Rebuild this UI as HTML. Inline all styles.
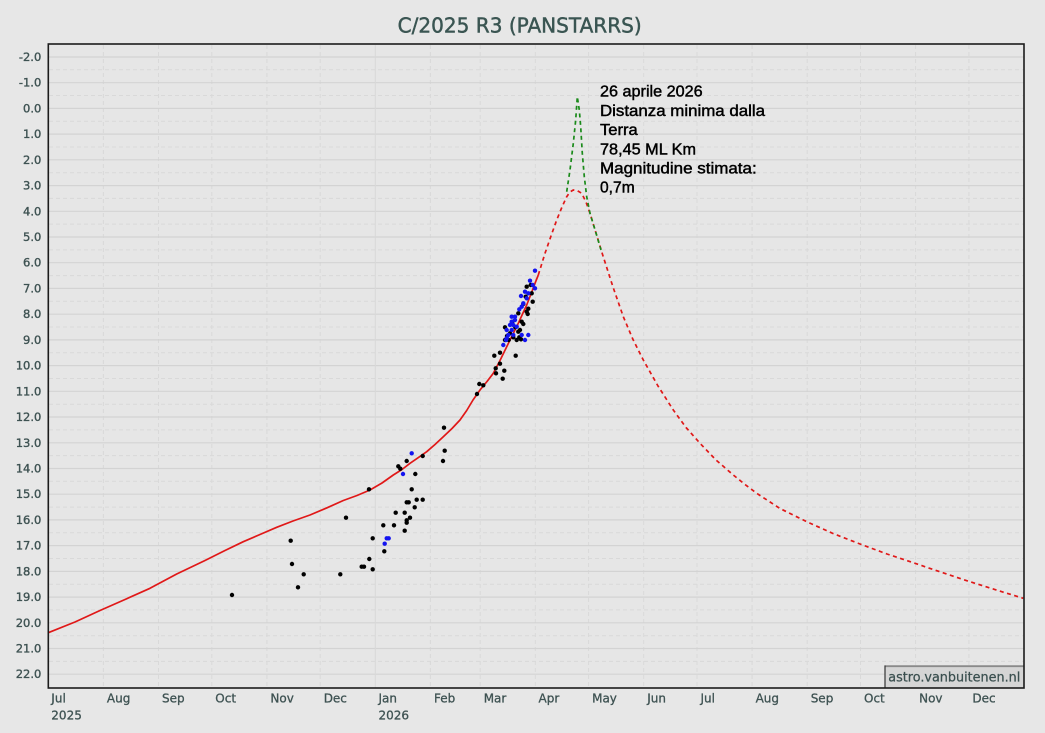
<!DOCTYPE html>
<html><head><meta charset="utf-8"><style>
html,body{margin:0;padding:0;background:#e7e7e7;}
svg{display:block;}
</style></head><body>
<svg width="1045" height="733" viewBox="0 0 1045 733" xmlns="http://www.w3.org/2000/svg">
<rect x="0" y="0" width="1045" height="733" fill="#e7e7e7"/>
<text x="519.7" y="32.3" text-anchor="middle" font-family="DejaVu Sans, sans-serif" font-size="20" fill="#3a5552" stroke="#3a5552" stroke-width="0.45" textLength="244" lengthAdjust="spacingAndGlyphs">C/2025 R3 (PANSTARRS)</text>
<rect x="48.3" y="44" width="975.7" height="644" fill="#e6e6e6"/>
<g stroke="#d9d9d9" stroke-width="1" stroke-dasharray="4,3" fill="none">
<path d="M49 69.8H1024M49 95.5H1024M49 121.3H1024M49 147H1024M49 172.7H1024M49 198.4H1024M49 224.1H1024M49 249.9H1024M49 275.6H1024M49 301.3H1024M49 327H1024M49 352.7H1024M49 378.5H1024M49 404.2H1024M49 429.9H1024M49 455.6H1024M49 481.3H1024M49 507.1H1024M49 532.8H1024M49 558.5H1024M49 584.2H1024M49 609.9H1024M49 635.7H1024M49 661.4H1024"/>
<path d="M103.4 45V688M158.5 45V688M211.8 45V688M266.9 45V688M320.2 45V688M430.4 45V688M480.2 45V688M535.3 45V688M588.6 45V688M643.7 45V688M697 45V688M752.1 45V688M807.2 45V688M860.5 45V688M915.6 45V688M968.9 45V688"/>
</g>
<g stroke="#d3d3d3" stroke-width="1.2" fill="none">
<path d="M49 57H1024M49 82.7H1024M49 108.4H1024M49 134.1H1024M49 159.8H1024M49 185.6H1024M49 211.3H1024M49 237H1024M49 262.7H1024M49 288.4H1024M49 314.2H1024M49 339.9H1024M49 365.6H1024M49 391.3H1024M49 417H1024M49 442.8H1024M49 468.5H1024M49 494.2H1024M49 519.9H1024M49 545.6H1024M49 571.4H1024M49 597.1H1024M49 622.8H1024M49 648.5H1024M49 674.2H1024"/>
</g>
<path d="M375.3 45V688" stroke="#d8d8d8" stroke-width="1" fill="none"/>
<g font-family="DejaVu Sans, sans-serif" font-size="11.5" fill="#3e5252" stroke="#3e5252" stroke-width="0.35" text-anchor="end">
<text x="41.3" y="61">-2.0</text><text x="41.3" y="86.7">-1.0</text><text x="41.3" y="112.4">0.0</text><text x="41.3" y="138.1">1.0</text><text x="41.3" y="163.8">2.0</text><text x="41.3" y="189.6">3.0</text><text x="41.3" y="215.3">4.0</text><text x="41.3" y="241">5.0</text><text x="41.3" y="266.7">6.0</text><text x="41.3" y="292.4">7.0</text><text x="41.3" y="318.2">8.0</text><text x="41.3" y="343.9">9.0</text><text x="41.3" y="369.6">10.0</text><text x="41.3" y="395.3">11.0</text><text x="41.3" y="421">12.0</text><text x="41.3" y="446.8">13.0</text><text x="41.3" y="472.5">14.0</text><text x="41.3" y="498.2">15.0</text><text x="41.3" y="523.9">16.0</text><text x="41.3" y="549.6">17.0</text><text x="41.3" y="575.4">18.0</text><text x="41.3" y="601.1">19.0</text><text x="41.3" y="626.8">20.0</text><text x="41.3" y="652.5">21.0</text><text x="41.3" y="678.2">22.0</text>
</g>
<g font-family="DejaVu Sans, sans-serif" font-size="12" fill="#3e5252" stroke="#3e5252" stroke-width="0.3">
<text x="51.3" y="702.5">Jul</text><text x="106.9" y="702.5">Aug</text><text x="162" y="702.5">Sep</text><text x="215.3" y="702.5">Oct</text><text x="270.4" y="702.5">Nov</text><text x="323.7" y="702.5">Dec</text><text x="378.5" y="702.5">Jan</text><text x="434" y="702.5">Feb</text><text x="483.7" y="702.5">Mar</text><text x="538.5" y="702.5">Apr</text><text x="592.1" y="702.5">May</text><text x="647.2" y="702.5">Jun</text><text x="700.5" y="702.5">Jul</text><text x="755.6" y="702.5">Aug</text><text x="810.7" y="702.5">Sep</text><text x="864" y="702.5">Oct</text><text x="919.1" y="702.5">Nov</text><text x="972.4" y="702.5">Dec</text>
<text x="51.3" y="719.5">2025</text><text x="378.5" y="719.5">2026</text>
</g>
<g fill="none" stroke-linejoin="round">
<path d="M48.3 632.7 L75 622 L100 610.5 L125 599.5 L150 588.3 L176.7 574 L205 560.5 L225 550.5 L243.3 541.7 L260 534.5 L276.7 527.3 L293 521 L310 515 L327 507.8 L343.3 500.5 L357 495.5 L370 490 L382 483 L393.3 475 L402 469.5 L410 463.3 L418 457.8 L426.7 451.7 L435 444.5 L443.3 436.7 L452 428.5 L460 420 L466.7 410.5 L473 400 L480 390 L487 381.5 L493.3 373.3 L500 360.5 L506.7 346.7 L512.5 335 L518.3 323.3 L522.5 314 L526.7 305 L531 294 L535 283.3 L538.3 275" stroke="#e01818" stroke-width="1.7"/>
<path d="M538.3 275 L545 253.3 L551 236 L556.7 220 L562 207 L566.7 196.7 L570 192 L573.3 190 L577 190.5 L581.7 193.3 L586 202 L590 213.3 L596 233 L602.7 255 L613 287 L623.3 316.7 L633 339.5 L643.3 360 L658 386 L673.3 410 L686 427.5 L700 443.3 L716 460 L733.3 475 L745 484.5 L756.7 493.3 L780 508.5 L806.7 521.7 L833 533.5 L860 544 L887 554 L915 563.3 L942 572.5 L970 581.7 L997 590.2 L1023.3 598.3" stroke="#e01818" stroke-width="1.7" stroke-dasharray="4,3.5"/>
<path d="M566.7 191.7 L570 170 L573.3 143.3 L575.7 120 L577.3 96.7 L579.3 110 L580.7 126.7 L582.3 153.3 L584.3 176.7 L586.7 196.7 L590 213.3 L596 233 L601 250" stroke="#1a8a1a" stroke-width="1.7" stroke-dasharray="4,3.5"/>
</g>
<g fill="#000">
<circle cx="232" cy="595" r="2.2"/><circle cx="290.7" cy="540.7" r="2.2"/><circle cx="292" cy="564" r="2.2"/><circle cx="303.7" cy="574.3" r="2.2"/><circle cx="298" cy="587.3" r="2.2"/><circle cx="340.3" cy="574.3" r="2.2"/><circle cx="346" cy="517.7" r="2.2"/><circle cx="361.7" cy="566.7" r="2.2"/><circle cx="364" cy="566.7" r="2.2"/><circle cx="369.3" cy="559" r="2.2"/><circle cx="372.7" cy="569.3" r="2.2"/><circle cx="372.7" cy="538.3" r="2.2"/><circle cx="369" cy="489.3" r="2.2"/><circle cx="383.3" cy="525.3" r="2.2"/><circle cx="384.3" cy="551.3" r="2.2"/><circle cx="394" cy="525.3" r="2.2"/><circle cx="395.7" cy="512.7" r="2.2"/><circle cx="398.3" cy="466.3" r="2.2"/><circle cx="400.3" cy="468.7" r="2.2"/><circle cx="404.7" cy="512.7" r="2.2"/><circle cx="404.7" cy="530.7" r="2.2"/><circle cx="406.7" cy="461" r="2.2"/><circle cx="406.7" cy="502.3" r="2.2"/><circle cx="408.7" cy="502.3" r="2.2"/><circle cx="406.7" cy="520.3" r="2.2"/><circle cx="406.7" cy="522.7" r="2.2"/><circle cx="410" cy="517.7" r="2.2"/><circle cx="411.7" cy="489.3" r="2.2"/><circle cx="414.7" cy="507.3" r="2.2"/><circle cx="415.3" cy="474" r="2.2"/><circle cx="416.7" cy="499.7" r="2.2"/><circle cx="422.7" cy="499.7" r="2.2"/><circle cx="422.7" cy="456" r="2.2"/><circle cx="443" cy="461" r="2.2"/><circle cx="444" cy="427.7" r="2.2"/><circle cx="444.7" cy="450.7" r="2.2"/>
<circle cx="477" cy="394" r="2.2"/><circle cx="479.3" cy="384" r="2.2"/><circle cx="483.3" cy="385.3" r="2.2"/><circle cx="494.3" cy="355.7" r="2.2"/><circle cx="495.7" cy="368.3" r="2.2"/><circle cx="496" cy="373.3" r="2.2"/><circle cx="500" cy="352.7" r="2.2"/><circle cx="500" cy="363.7" r="2.2"/><circle cx="502.7" cy="378.7" r="2.2"/><circle cx="504.3" cy="370.7" r="2.2"/><circle cx="505" cy="327.3" r="2.2"/><circle cx="505" cy="340" r="2.2"/><circle cx="507" cy="336" r="2.2"/><circle cx="508.7" cy="340" r="2.2"/><circle cx="510" cy="333.3" r="2.2"/><circle cx="512.3" cy="321.7" r="2.2"/><circle cx="513.3" cy="337.3" r="2.2"/><circle cx="515.3" cy="327.3" r="2.2"/><circle cx="515.7" cy="355.7" r="2.2"/><circle cx="516.7" cy="340" r="2.2"/><circle cx="518.3" cy="331.7" r="2.2"/><circle cx="519.3" cy="337.3" r="2.2"/><circle cx="520" cy="330" r="2.2"/><circle cx="521.7" cy="321.7" r="2.2"/><circle cx="523.3" cy="324" r="2.2"/><circle cx="521" cy="339.3" r="2.2"/><circle cx="526.7" cy="311.7" r="2.2"/><circle cx="527.7" cy="314" r="2.2"/><circle cx="528.3" cy="308.7" r="2.2"/><circle cx="525.7" cy="296.7" r="2.2"/><circle cx="526.7" cy="286.7" r="2.2"/><circle cx="530.7" cy="285" r="2.2"/><circle cx="531.7" cy="293.3" r="2.2"/><circle cx="532.7" cy="301.7" r="2.2"/><circle cx="523.3" cy="304" r="2.2"/><circle cx="518.3" cy="313.3" r="2.2"/>
</g>
<g fill="#1414f0">
<circle cx="384.7" cy="543.7" r="2.2"/><circle cx="386.7" cy="538.3" r="2.2"/><circle cx="388.7" cy="538.3" r="2.2"/><circle cx="403" cy="474" r="2.2"/><circle cx="411.7" cy="453.3" r="2.2"/>
<circle cx="535" cy="270.7" r="2.2"/><circle cx="530" cy="280.7" r="2.2"/><circle cx="532.7" cy="285" r="2.2"/><circle cx="535" cy="288.3" r="2.2"/><circle cx="525" cy="291.7" r="2.2"/><circle cx="528.3" cy="293.3" r="2.2"/><circle cx="521" cy="296" r="2.2"/><circle cx="526.7" cy="298.3" r="2.2"/><circle cx="523.3" cy="303.3" r="2.2"/><circle cx="521.7" cy="306.7" r="2.2"/><circle cx="519.3" cy="309.3" r="2.2"/><circle cx="511.7" cy="316.7" r="2.2"/><circle cx="515" cy="316.7" r="2.2"/><circle cx="511.7" cy="321.7" r="2.2"/><circle cx="515" cy="320" r="2.2"/><circle cx="510" cy="325" r="2.2"/><circle cx="513.3" cy="325" r="2.2"/><circle cx="506.7" cy="330" r="2.2"/><circle cx="511.7" cy="330" r="2.2"/><circle cx="516.7" cy="326.7" r="2.2"/><circle cx="508.3" cy="335" r="2.2"/><circle cx="513.3" cy="335" r="2.2"/><circle cx="506.7" cy="338.3" r="2.2"/><circle cx="521.7" cy="335" r="2.2"/><circle cx="528.3" cy="335" r="2.2"/><circle cx="525" cy="340" r="2.2"/><circle cx="503.3" cy="345" r="2.2"/><circle cx="506" cy="340" r="2.2"/>
</g>
<g font-family="Liberation Sans, Arial, sans-serif" font-size="16" fill="#000" stroke="#000" stroke-width="0.45">
<text x="600" y="96.7" textLength="102.7" lengthAdjust="spacingAndGlyphs">26 aprile 2026</text>
<text x="600" y="115.9" textLength="165" lengthAdjust="spacingAndGlyphs">Distanza minima dalla</text>
<text x="600" y="135" textLength="37.7" lengthAdjust="spacingAndGlyphs">Terra</text>
<text x="600" y="154.3" textLength="96" lengthAdjust="spacingAndGlyphs">78,45 ML Km</text>
<text x="600" y="173.3" textLength="156.7" lengthAdjust="spacingAndGlyphs">Magnitudine stimata:</text>
<text x="600" y="192.5" textLength="34.7" lengthAdjust="spacingAndGlyphs">0,7m</text>
</g>
<rect x="884.5" y="665.5" width="139.5" height="22.5" fill="#d5d5d5"/>
<path d="M884.5 666.2H1024" stroke="#8a8a8a" stroke-width="1.8"/>
<path d="M885 665.5V688" stroke="#333" stroke-width="1.2"/>
<text x="888.3" y="681.5" font-family="DejaVu Sans, sans-serif" font-size="13" fill="#3a4f4f" stroke="#3a4f4f" stroke-width="0.25" textLength="132" lengthAdjust="spacingAndGlyphs">astro.vanbuitenen.nl</text>
<rect x="48.3" y="44" width="975.7" height="644" fill="none" stroke="#1c1c1c" stroke-width="1.6"/>
</svg>
</body></html>
